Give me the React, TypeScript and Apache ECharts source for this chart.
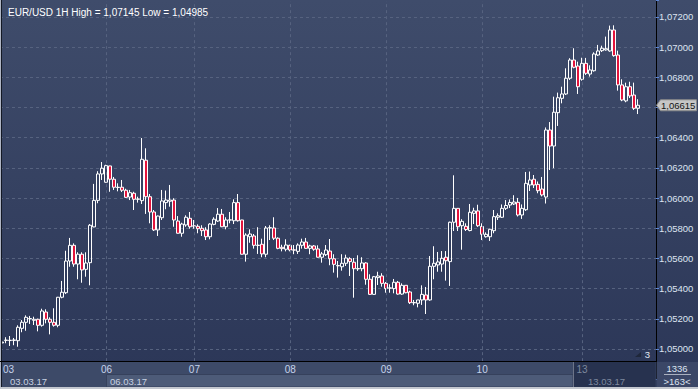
import React, { useEffect, useRef } from 'react';
import * as echarts from 'echarts';

const chartTitle = 'EUR/USD 1H High = 1,07145 Low = 1,04985';

const opens = [
  1.05040, 1.05057, 1.05058, 1.05057, 1.05055, 1.05137, 1.05177, 1.05200, 1.05190, 1.05197,
  1.05157, 1.05245, 1.05197, 1.05177, 1.05157, 1.05343, 1.05373, 1.05583, 1.05687, 1.05563,
  1.05628, 1.05528, 1.05572, 1.05809, 1.05985, 1.06160, 1.06105, 1.06213, 1.06125, 1.06072,
  1.06072, 1.06052, 1.06007, 1.06032, 1.05992, 1.05983, 1.06251, 1.06009, 1.05908, 1.05789,
  1.05870, 1.05970, 1.05979, 1.05987, 1.05848, 1.05767, 1.05822, 1.05866, 1.05816, 1.05813,
  1.05800, 1.05789, 1.05744, 1.05826, 1.05848, 1.05893, 1.05810, 1.05854, 1.05850, 1.05970,
  1.05855, 1.05628, 1.05744, 1.05749, 1.05688, 1.05694, 1.05628, 1.05802, 1.05802, 1.05734,
  1.05674, 1.05661, 1.05687, 1.05657, 1.05647, 1.05687, 1.05709, 1.05667, 1.05683, 1.05663,
  1.05608, 1.05625, 1.05649, 1.05598, 1.05553, 1.05545, 1.05568, 1.05598, 1.05575, 1.05533,
  1.05532, 1.05570, 1.05462, 1.05362, 1.05473, 1.05484, 1.05435, 1.05405, 1.05400, 1.05442,
  1.05364, 1.05422, 1.05378, 1.05308, 1.05303, 1.05325, 1.05358, 1.05325, 1.05548, 1.05557,
  1.05563, 1.05608, 1.05579, 1.05840, 1.05932, 1.05817, 1.05813, 1.05785, 1.05899, 1.05915,
  1.05812, 1.05744, 1.05744, 1.05784, 1.05873, 1.05873, 1.05932, 1.05954, 1.05961, 1.05972,
  1.05888, 1.05923, 1.06087, 1.06125, 1.06091, 1.06060, 1.06007, 1.06451, 1.06345, 1.06566,
  1.06661, 1.06690, 1.06794, 1.06915, 1.06875, 1.06787, 1.06893, 1.06822, 1.06844, 1.06948,
  1.06977, 1.06982, 1.06975, 1.07114, 1.06948, 1.06750, 1.06644, 1.06738, 1.06683, 1.06595,
];

const closes = [
  1.05046, 1.05059, 1.05056, 1.05060, 1.05144, 1.05177, 1.05210, 1.05202, 1.05197, 1.05157,
  1.05252, 1.05197, 1.05177, 1.05157, 1.05343, 1.05376, 1.05583, 1.05687, 1.05563, 1.05628,
  1.05524, 1.05570, 1.05820, 1.05985, 1.06160, 1.06198, 1.06215, 1.06125, 1.06072, 1.06070,
  1.06052, 1.06005, 1.06036, 1.05992, 1.05994, 1.06257, 1.06009, 1.05908, 1.05789, 1.05881,
  1.05981, 1.05987, 1.05987, 1.05855, 1.05767, 1.05828, 1.05873, 1.05810, 1.05814, 1.05797,
  1.05784, 1.05744, 1.05828, 1.05860, 1.05893, 1.05810, 1.05855, 1.05856, 1.05970, 1.05850,
  1.05628, 1.05755, 1.05762, 1.05687, 1.05686, 1.05630, 1.05802, 1.05804, 1.05734, 1.05667,
  1.05665, 1.05689, 1.05656, 1.05655, 1.05689, 1.05709, 1.05667, 1.05683, 1.05661, 1.05608,
  1.05630, 1.05656, 1.05598, 1.05561, 1.05551, 1.05568, 1.05603, 1.05579, 1.05532, 1.05531,
  1.05570, 1.05462, 1.05362, 1.05479, 1.05484, 1.05435, 1.05400, 1.05403, 1.05442, 1.05364,
  1.05422, 1.05373, 1.05307, 1.05306, 1.05325, 1.05362, 1.05325, 1.05548, 1.05568, 1.05577,
  1.05601, 1.05585, 1.05840, 1.05932, 1.05810, 1.05846, 1.05792, 1.05906, 1.05915, 1.05817,
  1.05760, 1.05760, 1.05793, 1.05877, 1.05883, 1.05932, 1.05951, 1.05971, 1.05974, 1.05888,
  1.05932, 1.06098, 1.06120, 1.06087, 1.06049, 1.06021, 1.06451, 1.06345, 1.06569, 1.06665,
  1.06690, 1.06794, 1.06915, 1.06867, 1.06738, 1.06893, 1.06827, 1.06849, 1.06955, 1.06975,
  1.06993, 1.06990, 1.07114, 1.06944, 1.06750, 1.06650, 1.06738, 1.06677, 1.06595, 1.06615,
];

const highs = [
  1.05066, 1.05078, 1.05086, 1.05073, 1.05157, 1.05192, 1.05223, 1.05219, 1.05214, 1.05201,
  1.05267, 1.05263, 1.05210, 1.05270, 1.05345, 1.05451, 1.05651, 1.05736, 1.05700, 1.05641,
  1.05641, 1.05641, 1.05828, 1.06094, 1.06178, 1.06239, 1.06221, 1.06214, 1.06140, 1.06098,
  1.06120, 1.06062, 1.06054, 1.06042, 1.06009, 1.06398, 1.06330, 1.06027, 1.05921, 1.05884,
  1.06054, 1.06050, 1.06087, 1.05999, 1.05881, 1.05837, 1.05886, 1.05908, 1.05855, 1.05826,
  1.05820, 1.05807, 1.05833, 1.05873, 1.05934, 1.05928, 1.05873, 1.05908, 1.05992, 1.06027,
  1.05856, 1.05767, 1.05793, 1.05762, 1.05807, 1.05731, 1.05815, 1.05820, 1.05873, 1.05740,
  1.05691, 1.05727, 1.05691, 1.05689, 1.05700, 1.05731, 1.05736, 1.05691, 1.05689, 1.05687,
  1.05643, 1.05689, 1.05729, 1.05628, 1.05583, 1.05628, 1.05625, 1.05608, 1.05603, 1.05621,
  1.05608, 1.05575, 1.05495, 1.05484, 1.05512, 1.05502, 1.05444, 1.05429, 1.05464, 1.05451,
  1.05435, 1.05423, 1.05386, 1.05325, 1.05326, 1.05422, 1.05411, 1.05616, 1.05681, 1.05643,
  1.05649, 1.05649, 1.05844, 1.06151, 1.05934, 1.05860, 1.05833, 1.05961, 1.05936, 1.05956,
  1.05833, 1.05773, 1.05797, 1.05921, 1.05899, 1.05958, 1.05987, 1.05991, 1.06019, 1.06001,
  1.05958, 1.06173, 1.06176, 1.06153, 1.06110, 1.06140, 1.06468, 1.06504, 1.06672, 1.06699,
  1.06738, 1.06860, 1.06927, 1.06993, 1.06904, 1.06930, 1.06929, 1.06880, 1.06966, 1.07015,
  1.07010, 1.07070, 1.07143, 1.07145, 1.06977, 1.06787, 1.06765, 1.06771, 1.06765, 1.06655,
];

const lows = [
  1.04985, 1.05038, 1.05020, 1.05025, 1.05015, 1.05111, 1.05121, 1.05166, 1.05159, 1.05117,
  1.05148, 1.05170, 1.05097, 1.05148, 1.05144, 1.05336, 1.05364, 1.05545, 1.05545, 1.05462,
  1.05439, 1.05479, 1.05422, 1.05807, 1.05966, 1.06120, 1.06102, 1.06042, 1.06054, 1.06045,
  1.06040, 1.06001, 1.05987, 1.05921, 1.05970, 1.05961, 1.05895, 1.05833, 1.05782, 1.05749,
  1.05855, 1.05926, 1.05943, 1.05810, 1.05765, 1.05744, 1.05810, 1.05797, 1.05797, 1.05767,
  1.05749, 1.05722, 1.05727, 1.05820, 1.05842, 1.05808, 1.05793, 1.05833, 1.05828, 1.05844,
  1.05626, 1.05579, 1.05704, 1.05665, 1.05630, 1.05608, 1.05608, 1.05722, 1.05722, 1.05661,
  1.05647, 1.05647, 1.05647, 1.05628, 1.05630, 1.05665, 1.05664, 1.05628, 1.05651, 1.05606,
  1.05572, 1.05616, 1.05555, 1.05506, 1.05473, 1.05519, 1.05550, 1.05484, 1.05340, 1.05517,
  1.05515, 1.05426, 1.05360, 1.05360, 1.05424, 1.05413, 1.05373, 1.05373, 1.05369, 1.05360,
  1.05359, 1.05369, 1.05298, 1.05290, 1.05276, 1.05292, 1.05232, 1.05320, 1.05462, 1.05512,
  1.05512, 1.05453, 1.05418, 1.05782, 1.05782, 1.05658, 1.05782, 1.05780, 1.05828, 1.05809,
  1.05722, 1.05738, 1.05716, 1.05767, 1.05855, 1.05868, 1.05921, 1.05934, 1.05954, 1.05878,
  1.05862, 1.05915, 1.06047, 1.06067, 1.06032, 1.06011, 1.05964, 1.06186, 1.06198, 1.06478,
  1.06628, 1.06683, 1.06783, 1.06860, 1.06690, 1.06778, 1.06816, 1.06805, 1.06838, 1.06942,
  1.06968, 1.06977, 1.06970, 1.06937, 1.06712, 1.06642, 1.06635, 1.06663, 1.06584, 1.06557,
];

const slotCount = 164;
const dayLabels = ['03', '06', '07', '08', '09', '10', '13'];
const dayStarts = [0, 26, 48, 72, 96, 120, 145];
const scrollDates = ['03.03.17', '06.03.17', '13.03.17'];
const scrollDateDays = [0, 26, 145];
const yMin = 1.048;
const yMax = 1.0731265;
const yStep = 0.002;
const yShownMin = 1.0499;
const yShownMax = 1.0721;
const lastPrice = 1.06615;
const barsTotal = '1336';
const barsVisible = '>163<';
const scaleMark = '3';

const FONT = "'Liberation Sans', Arial, sans-serif";

export default function App() {
  const ref = useRef<HTMLDivElement>(null);

  useEffect(() => {
    document.body.style.margin = '0';
    if (!ref.current) return;
    const chart = echarts.init(ref.current, undefined, { renderer: 'svg' });

    const categories = Array.from({ length: slotCount }, (_, i) => String(i));
    const candleData = opens.map((o, i) => [o, closes[i], lows[i], highs[i]]);
    const fmt = (v: number) => v.toFixed(5).replace('.', ',');

    const option: any = {
      animation: false,
      backgroundColor: {
        type: 'linear', x: 0, y: 0, x2: 0, y2: 1,
        colorStops: [
          { offset: 0, color: '#3f4c6b' },
          { offset: 1, color: '#2b3657' },
        ],
      },
      title: {
        text: chartTitle,
        left: 3,
        top: 2,
        textStyle: { color: '#ffffff', fontSize: 10, fontWeight: 'normal', fontFamily: FONT },
      },
      grid: [
        { left: 0, right: 42, top: 0, bottom: 9.82 },
        { left: 0, right: 42, top: 360, height: 1 },
      ],
      xAxis: [
        { type: 'category', gridIndex: 0, data: categories, boundaryGap: true, show: false },
        {
          type: 'category', gridIndex: 1, data: categories, boundaryGap: true, z: 60,
          axisLine: { show: false }, axisTick: { show: false }, splitLine: { show: false },
          axisLabel: {
            interval: (i: number) => dayStarts.includes(i),
            formatter: (v: string) => {
              const k = dayStarts.indexOf(Number(v));
              if (k < 0) return '';
              if (k === 0) return '{f|' + dayLabels[k] + '}';
              if (k === dayLabels.length - 1) return '{g|' + dayLabels[k] + '}';
              return '{n|' + dayLabels[k] + '}';
            },
            margin: 3,
            verticalAlign: 'top',
            fontSize: 10,
            fontFamily: FONT,
            color: '#c6d3ec',
            rich: {
              f: { color: '#c6d3ec', fontSize: 10, fontFamily: FONT, padding: [0, 0, 0, 12] },
              n: { color: '#c6d3ec', fontSize: 10, fontFamily: FONT },
              g: { color: '#7d889e', fontSize: 10, fontFamily: FONT },
            },
          },
        },
      ],
      yAxis: [
        {
          type: 'value', gridIndex: 0, position: 'right', min: yMin, max: yMax, interval: yStep,
          axisLine: { show: true, lineStyle: { color: '#000000', width: 1 } },
          axisTick: { show: true, length: 3, lineStyle: { color: '#5c86d6' } },
          axisLabel: {
            margin: 3,
            color: '#dde4f1',
            fontSize: 9.5,
            fontFamily: FONT,
            formatter: (v: number) =>
              v < yShownMin || v > yShownMax || Math.abs(v - lastPrice) < 0.0004 ? '' : fmt(v),
          },
          splitLine: { show: true, lineStyle: { color: '#56627f', type: [3, 3], width: 1 } },
        },
        { type: 'value', gridIndex: 1, show: false },
      ],
      series: [
        {
          type: 'candlestick',
          xAxisIndex: 0,
          yAxisIndex: 0,
          data: candleData,
          barWidth: 3,
          itemStyle: {
            color: 'rgba(0,0,0,0)',
            color0: '#e3143c',
            borderColor: '#ffffff',
            borderColor0: '#ffffff',
            borderWidth: 1,
          },
          emphasis: { disabled: true },
          markLine: {
            silent: true,
            symbol: ['none', 'none'],
            label: { show: false },
            lineStyle: { color: '#56627f', type: [3, 3], width: 1 },
            emphasis: { disabled: true },
            data: dayStarts.slice(1).map((i) => ({ xAxis: i })),
          },
        },
      ],
    };

    chart.setOption(option);

    const py = chart.convertToPixel({ yAxisIndex: 0 }, lastPrice) as number;
    const px = (i: number) => chart.convertToPixel({ xAxisIndex: 0 }, i) as number;
    const lastDayX = px(dayStarts[dayStarts.length - 1]) - 9;
    const txt = (id: string, text: string, x: number, y: number, fill: string, align = 'left') => ({
      type: 'text', id, x, y, z: 61,
      style: { text, fill, fontSize: 9.5, fontFamily: FONT, align, verticalAlign: 'middle' },
    });

    chart.setOption({
      graphic: [
        { type: 'rect', id: 'topCover', z: 49, shape: { x: 0, y: 0, width: 656, height: 1 }, style: { fill: '#3f4c6b' } },
        { type: 'rect', id: 'edgeL', z: 50, shape: { x: 0, y: 0, width: 1, height: 389 }, style: { fill: '#aeb4c3' } },
        { type: 'rect', id: 'edgeL2', z: 50, shape: { x: 1, y: 0, width: 1, height: 389 }, style: { fill: '#141925' } },
        { type: 'rect', id: 'strip', z: 50, shape: { x: 2, y: 362, width: 653.5, height: 25 }, style: { fill: '#3d4a68' } },
        { type: 'rect', id: 'plotBottom', z: 51, shape: { x: 0, y: 361, width: 656, height: 1 }, style: { fill: '#000000' } },
        {
          type: 'rect', id: 'scrollSeg', z: 51,
          shape: { x: px(dayStarts[1]) + 0.5, y: 374.5, width: lastDayX - px(dayStarts[1]) - 0.5, height: 12.5 },
          style: { fill: '#4d5b78', stroke: '#36415c', lineWidth: 1 },
        },
        { type: 'rect', id: 'shade', z: 52, shape: { x: lastDayX, y: 362, width: 655.5 - lastDayX, height: 25 }, style: { fill: '#27324f' } },
        { type: 'rect', id: 'shadeEdge', z: 52, shape: { x: lastDayX, y: 362, width: 1, height: 25 }, style: { fill: '#6c7488' } },
        { type: 'rect', id: 'rb', z: 50, shape: { x: 656.5, y: 362, width: 41.5, height: 25 }, style: { fill: '#3b4767' } },
        { type: 'rect', id: 'edgeB', z: 53, shape: { x: 0, y: 387, width: 698, height: 2 }, style: { fill: '#c3c7cf' } },
        { type: 'line', id: 'rbLine', z: 53, shape: { x1: 664, y1: 374.5, x2: 691, y2: 374.5 }, style: { stroke: '#a9b0bf', lineWidth: 1 } },
        txt('d0', scrollDates[0], px(scrollDateDays[0]) + 8, 381, '#c8d1e2'),
        txt('d1', scrollDates[1], px(scrollDateDays[1]) + 4, 381, '#c8d1e2'),
        txt('d2', scrollDates[2], px(scrollDateDays[2]) + 6, 381, '#7d889e'),
        txt('bt', barsTotal, 677, 368, '#dde4f1', 'center'),
        txt('bv', barsVisible, 677, 381, '#dde4f1', 'center'),
        txt('sc', scaleMark, 650, 354, '#e3e8f2', 'right'),
        { type: 'polygon', id: 'scTri', z: 61, shape: { points: [[635, 357], [641, 357], [641, 352]] }, style: { fill: '#1f273a' } },
        {
          type: 'polygon', id: 'pBox', z: 62,
          shape: { points: [[656.5, py], [660.5, py - 5.5], [696.5, py - 5.5], [696.5, py + 5.5], [660.5, py + 5.5]] },
          style: { fill: '#c6c6c6', stroke: '#8a8a8a', lineWidth: 1 },
        },
        {
          type: 'text', id: 'pTxt', z: 63, x: 661, y: py,
          style: { text: lastPrice.toFixed(5).replace('.', ','), fill: '#151515', fontSize: 9.5, fontFamily: FONT, align: 'left', verticalAlign: 'middle' },
        },
      ],
    });

    return () => chart.dispose();
  }, []);

  return <div ref={ref} style={{ width: 698, height: 389 }} />;
}
